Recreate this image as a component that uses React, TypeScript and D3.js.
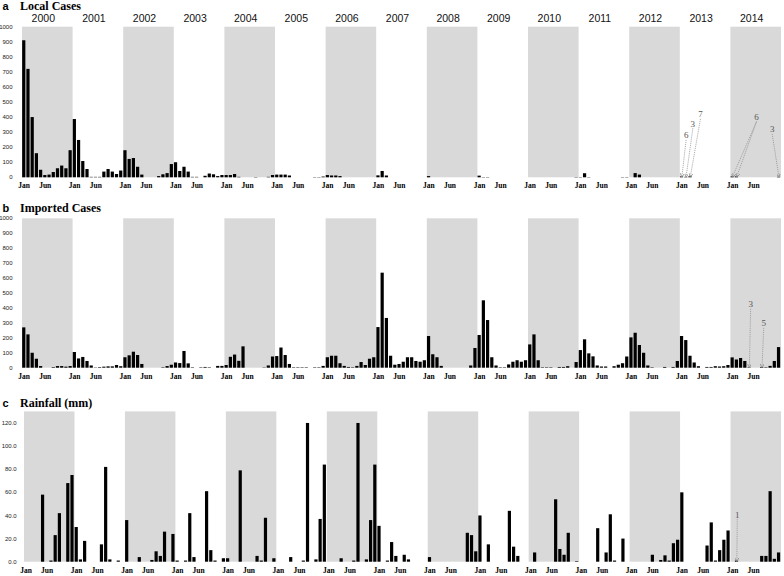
import React from 'react'
import * as d3 from 'd3'

const years = [2000, 2001, 2002, 2003, 2004, 2005, 2006, 2007, 2008, 2009, 2010, 2011, 2012, 2013, 2014]

// month ticks shown under every year (index within the year)
const monthTicks = [
  { month: 0, label: 'Jan' },
  { month: 5, label: 'Jun' }
]

// one row per year, Jan..Dec
const localCases: number[][] = [
  [910, 720, 400, 160, 50, 15, 18, 35, 60, 78, 60, 180],
  [387, 248, 108, 55, 3, 3, 3, 38, 55, 38, 22, 45],
  [180, 122, 128, 70, 18, 0, 0, 0, 8, 20, 28, 88],
  [100, 42, 70, 38, 3, 3, 0, 10, 25, 20, 8, 15],
  [15, 15, 22, 3, 0, 0, 0, 2, 0, 0, 3, 15],
  [18, 18, 18, 12, 0, 0, 0, 0, 0, 2, 2, 5],
  [15, 12, 12, 8, 0, 0, 0, 0, 0, 0, 0, 0],
  [13, 42, 12, 0, 0, 0, 0, 0, 0, 0, 0, 0],
  [8, 0, 0, 0, 0, 0, 0, 0, 0, 0, 0, 0],
  [11, 2, 2, 0, 0, 0, 0, 0, 0, 0, 0, 0],
  [0, 0, 0, 0, 0, 0, 0, 0, 0, 0, 0, 2],
  [2, 27, 2, 0, 0, 0, 0, 0, 0, 0, 2, 2],
  [0, 28, 18, 0, 0, 0, 0, 0, 0, 0, 0, 0],
  [6, 3, 7, 0, 0, 0, 0, 0, 0, 0, 0, 0],
  [6, 6, 0, 0, 0, 0, 0, 0, 0, 0, 0, 3]
]

const importedCases: number[][] = [
  [270, 223, 100, 60, 11, 0, 0, 4, 11, 11, 7, 11],
  [105, 62, 72, 45, 15, 2, 4, 7, 9, 9, 18, 10],
  [70, 83, 107, 85, 25, 0, 0, 0, 0, 3, 11, 20],
  [35, 31, 112, 29, 3, 0, 3, 5, 3, 0, 12, 12],
  [18, 73, 88, 46, 143, 0, 0, 0, 0, 2, 15, 75],
  [78, 135, 85, 25, 3, 3, 3, 3, 0, 3, 3, 12],
  [70, 80, 80, 30, 12, 5, 3, 12, 38, 18, 60, 70],
  [272, 636, 333, 80, 20, 25, 40, 70, 70, 45, 40, 50],
  [212, 90, 70, 12, 0, 0, 0, 0, 0, 0, 15, 132],
  [219, 451, 319, 70, 15, 3, 3, 22, 40, 50, 40, 50],
  [156, 223, 50, 3, 3, 3, 0, 5, 5, 10, 0, 38],
  [118, 190, 96, 76, 15, 8, 8, 0, 10, 20, 30, 75],
  [203, 234, 152, 100, 15, 3, 0, 0, 5, 0, 5, 45],
  [212, 185, 80, 35, 10, 0, 5, 5, 10, 8, 10, 18],
  [69, 55, 65, 45, 3, 0, 0, 5, 3, 12, 45, 138]
]

const rainfall: number[][] = [
  [0, 0, 0, 0, 58, 0, 1, 23, 42, 0, 68, 75],
  [30, 2, 18, 0, 0, 0, 15, 82, 2, 0, 1, 0],
  [36, 0, 0, 4, 0, 0, 1.5, 9, 5, 26, 0, 24],
  [1, 0, 1, 42, 4, 0, 0, 61, 10, 1, 0, 3],
  [3, 0, 0, 79, 0, 0, 0, 5, 1, 38, 0, 3],
  [0, 0, 0, 4, 0, 0, 1, 120, 0, 2, 37, 84],
  [0, 0, 0, 3, 0, 0, 1, 120, 0, 2, 36, 84],
  [31, 0, 1, 17, 5, 0, 6, 2, 0, 0, 0, 0],
  [4, 0, 0, 0, 0, 0, 0, 0, 0, 25, 23, 9],
  [40, 0, 15, 0, 0, 0, 0, 44, 13, 5, 0, 0],
  [0, 8, 0, 0, 0, 0, 54, 11, 6, 25, 0, 0.5],
  [0, 0, 0, 0, 29, 0, 8, 41, 1, 0, 20, 0],
  [0, 0, 0, 0, 0, 6, 0, 1.5, 5.5, 1, 16, 19],
  [60, 0, 0, 0, 0, 0, 14, 34, 1, 10, 19, 27],
  [0, 1, 0, 0, 0, 0, 0, 5, 5, 61, 2.5, 8]
]

// call-outs for values too small to see: label placed at (month index, value), arrows to target months
interface Note { label: string; lx: number; ly: number; targets: number[] }

const localNotes: Note[] = [
  { label: '6', lx: 157.5, ly: 259, targets: [156] },
  { label: '3', lx: 159.1, ly: 336, targets: [157] },
  { label: '7', lx: 160.9, ly: 398, targets: [158] },
  { label: '6', lx: 174.2, ly: 380, targets: [168, 169] },
  { label: '3', lx: 177.9, ly: 299, targets: [179] }
]

const importedNotes: Note[] = [
  { label: '3', lx: 172.8, ly: 404, targets: [172] },
  { label: '5', lx: 175.9, ly: 277, targets: [175] }
]

const rainNotes: Note[] = [
  { label: '1', lx: 169.6, ly: 38, targets: [169] }
]

interface PanelCfg {
  letter: string
  title: string
  data: number[][]
  max: number
  ticks: number[]
  fmt: (d: number) => string
  top: number
  bottom: number
  x0: number
  x1: number
  tickRight: number
  titleY: number
  showYears: boolean
  notes: Note[]
}

const panels: PanelCfg[] = [
  {
    letter: 'a', title: 'Local Cases', data: localCases, max: 1000,
    ticks: d3.range(0, 1001, 100), fmt: d => String(d),
    top: 26.7, bottom: 177.3, x0: 22, x1: 781, tickRight: 12.5, titleY: 10,
    showYears: true, notes: localNotes
  },
  {
    letter: 'b', title: 'Imported Cases', data: importedCases, max: 1000,
    ticks: d3.range(0, 1001, 100), fmt: d => String(d),
    top: 218.3, bottom: 367.7, x0: 22, x1: 781, tickRight: 12.5, titleY: 212,
    showYears: false, notes: importedNotes
  },
  {
    letter: 'c', title: 'Rainfall (mm)', data: rainfall, max: 130,
    ticks: d3.range(0, 121, 20), fmt: d3.format('.1f'),
    top: 411.4, bottom: 561.7, x0: 24, x1: 781, tickRight: 16.7, titleY: 406.5,
    showYears: false, notes: rainNotes
  }
]

const serif = '"Liberation Serif", "DejaVu Serif", serif'
const sans = '"Liberation Sans", Arial, sans-serif'

const Panel: React.FC<{ cfg: PanelCfg }> = ({ cfg }) => {
  const nMonths = years.length * 12
  const x = d3.scaleLinear().domain([0, nMonths]).range([cfg.x0, cfg.x1])
  const y = d3.scaleLinear().domain([0, cfg.max]).range([cfg.bottom, cfg.top])
  const step = x(1) - x(0)
  const barW = step * 0.76
  const values = cfg.data.flat()

  return (
    <g>
      {/* alternate year shading */}
      {years.map((yr, k) => k % 2 === 0 ? (
        <rect key={yr} x={x(k * 12)} y={y(cfg.max)} width={x(k * 12 + 12) - x(k * 12)}
          height={y(0) - y(cfg.max)} fill="#d9d9d9" />
      ) : null)}

      {/* bars */}
      {values.map((v, i) => v > 0 ? (
        <rect key={i} x={x(i) + 0.15} y={y(v)} width={barW} height={y(0) - y(v)} fill="#000" />
      ) : null)}

      {/* y ticks */}
      {cfg.ticks.map(t => (
        <text key={t} x={cfg.tickRight} y={y(t)} dy="0.35em" textAnchor="end"
          fontFamily={sans} fontSize={6} fill="#222">{cfg.fmt(t)}</text>
      ))}

      {/* month labels */}
      {years.map((yr, k) => monthTicks.map(mt => (
        <text key={yr + mt.label} x={x(k * 12 + mt.month + 0.5)} y={y(0) + 11}
          textAnchor="middle" fontFamily={serif} fontWeight="bold" fontSize={7.5}
          fill="#000">{mt.label}</text>
      )))}

      {/* year labels */}
      {cfg.showYears && years.map((yr, k) => (
        <text key={yr} x={x(k * 12 + 6) - 4} y={21.7} textAnchor="middle"
          fontFamily={sans} fontSize={10.5} fill="#111">{yr}</text>
      ))}

      {/* panel letter and title */}
      <text x={2.5} y={cfg.titleY} fontFamily={sans} fontWeight="bold" fontSize={11}>{cfg.letter}</text>
      <text x={20} y={cfg.titleY} fontFamily={serif} fontWeight="bold" fontSize={12}>{cfg.title}</text>

      {/* call-outs */}
      {cfg.notes.map((n, j) => (
        <g key={j}>
          {n.targets.map(t => (
            <line key={t} x1={x(n.lx)} y1={y(n.ly) + 1.5} x2={x(t + 0.5)} y2={y(0) - 0.6}
              stroke="#8c8c8c" strokeWidth={0.7} strokeDasharray="1.2,0.9"
              markerEnd="url(#arrowHead)" />
          ))}
          <text x={x(n.lx)} y={y(n.ly)} textAnchor="middle" fontFamily={serif}
            fontSize={9} fill="#555">{n.label}</text>
        </g>
      ))}
    </g>
  )
}

const App: React.FC = () => {
  return (
    <svg width={784} height={576}
      style={{ position: 'absolute', left: 0, top: 0, background: '#fff', transform: 'translateZ(0)' }}>
      <defs>
        <marker id="arrowHead" viewBox="0 0 6 6" refX={5} refY={3} markerWidth={4} markerHeight={4}
          orient="auto" markerUnits="userSpaceOnUse">
          <path d="M0,0 L6,3 L0,6" fill="none" stroke="#8c8c8c" strokeWidth={1.2} />
        </marker>
      </defs>
      <rect x={0} y={0} width={784} height={576} fill="#fff" />
      {panels.map(p => <Panel key={p.letter} cfg={p} />)}
    </svg>
  )
}

export default App
